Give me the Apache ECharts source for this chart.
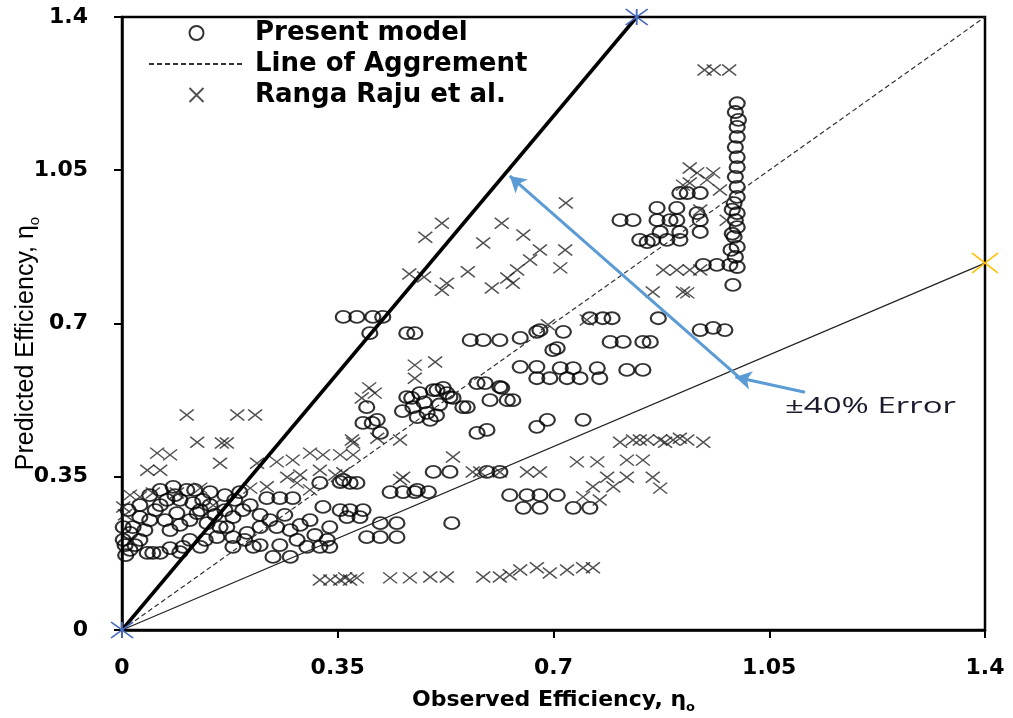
<!DOCTYPE html>
<html>
<head>
<meta charset="utf-8">
<script src="https://cdn.jsdelivr.net/npm/echarts@6/dist/echarts.min.js"></script>
<style>html,body{margin:0;padding:0;background:#fff}#c{width:1013px;height:718px}</style>
</head>
<body>
<div id="c"></div>
<script>
// ---- data ----
const ticks = [0, 0.35, 0.7, 1.05, 1.4];

const presentModel = [
  // right vertical column
  [0.998,1.203],[0.995,1.183],[1.000,1.165],[0.998,1.149],[0.998,1.126],[0.995,1.103],[0.998,1.080],
  [0.998,1.057],[0.995,1.035],[0.998,1.012],[0.998,0.989],[0.993,0.975],[0.998,0.952],[0.995,0.936],
  [0.998,0.920],[0.993,0.898],[0.998,0.875],[0.995,0.852],[0.998,0.829],[0.991,0.788],
  [0.990,0.960],[0.990,0.905],[0.988,0.868],
  // upper-right cluster
  [0.917,0.998],[0.938,0.998],[0.905,0.998],[0.868,0.964],[0.900,0.964],[0.933,0.952],[0.808,0.936],
  [0.829,0.936],[0.868,0.936],[0.900,0.936],[0.938,0.936],[0.889,0.936],[0.840,0.891],[0.861,0.891],
  [0.884,0.891],[0.905,0.891],[0.852,0.886],[0.873,0.909],[0.905,0.909],[0.938,0.909],[0.943,0.834],
  [0.965,0.834],[0.986,0.834],[0.870,0.712],[0.938,0.685],[0.959,0.690],[0.978,0.685],
  // middle
  [0.759,0.712],[0.780,0.712],[0.795,0.712],[0.706,0.644],[0.716,0.681],[0.673,0.681],[0.646,0.667],
  [0.613,0.662],[0.586,0.662],[0.565,0.662],[0.678,0.685],[0.699,0.639],[0.792,0.658],[0.813,0.658],
  [0.845,0.658],[0.857,0.658],[0.646,0.601],[0.673,0.601],[0.711,0.598],[0.732,0.598],[0.771,0.598],
  [0.673,0.575],[0.694,0.575],[0.722,0.575],[0.743,0.575],[0.775,0.575],[0.819,0.594],[0.845,0.594],
  [0.576,0.564],[0.589,0.564],[0.616,0.553],[0.511,0.548],[0.532,0.532],[0.553,0.509],[0.597,0.525],
  [0.625,0.525],[0.634,0.525],[0.673,0.464],[0.690,0.480],[0.576,0.450],[0.592,0.457],[0.748,0.480],
  [0.613,0.555],[0.527,0.541],
  // middle-left
  [0.359,0.715],[0.381,0.715],[0.407,0.715],[0.423,0.715],[0.402,0.678],[0.462,0.678],[0.475,0.678],
  [0.462,0.532],[0.483,0.541],[0.505,0.548],[0.521,0.553],[0.537,0.530],[0.560,0.509],[0.472,0.509],
  [0.495,0.496],[0.479,0.486],[0.500,0.480],[0.397,0.509],[0.391,0.473],[0.406,0.473],[0.419,0.450],
  [0.414,0.480],[0.490,0.520],[0.515,0.515],[0.455,0.500],[0.510,0.490],[0.470,0.530],
  // lower middle
  [0.505,0.361],[0.532,0.361],[0.592,0.361],[0.613,0.361],
  [0.629,0.308],[0.657,0.308],[0.678,0.308],[0.706,0.308],
  [0.651,0.279],[0.678,0.279],[0.732,0.279],[0.759,0.279],
  [0.535,0.244],
  [0.321,0.336],[0.359,0.343],[0.370,0.336],[0.381,0.336],[0.354,0.338],
  [0.435,0.315],[0.456,0.315],[0.475,0.315],[0.497,0.315],[0.479,0.320],
  [0.370,0.274],[0.354,0.274],[0.391,0.274],[0.386,0.258],[0.365,0.258],
  [0.419,0.244],[0.446,0.244],[0.397,0.212],[0.419,0.212],[0.446,0.212],[0.337,0.190],
  // left cluster
  [0.235,0.301],[0.256,0.301],[0.277,0.301],[0.224,0.235],[0.251,0.235],[0.284,0.206],[0.300,0.190],
  [0.321,0.190],[0.245,0.167],[0.273,0.167],[0.180,0.212],[0.154,0.212],[0.127,0.190],[0.099,0.190],
  [0.050,0.176],[0.041,0.176],[0.062,0.176],[0.013,0.183],[0.002,0.206],[0.002,0.235],[0.013,0.222],
  [0.073,0.297],[0.094,0.297],[0.115,0.290],[0.089,0.267],[0.122,0.267],[0.138,0.244],[0.159,0.235],
  [0.170,0.235],[0.203,0.222],[0.213,0.190],[0.180,0.190],[0.083,0.327],[0.105,0.320],[0.131,0.297],
  [0.029,0.258],[0.045,0.251],[0.018,0.235],[0.196,0.274],[0.180,0.258],[0.326,0.281],[0.337,0.235],
  [0.333,0.206],
  [0.005,0.194],[0.006,0.171],[0.021,0.194],[0.029,0.206],[0.037,0.228],[0.054,0.274],[0.062,0.285],
  [0.070,0.251],[0.078,0.228],[0.094,0.240],[0.110,0.251],[0.127,0.274],[0.143,0.285],[0.151,0.263],
  [0.167,0.274],[0.183,0.297],[0.208,0.285],[0.224,0.263],[0.240,0.251],[0.264,0.263],[0.273,0.228],
  [0.289,0.240],[0.305,0.251],[0.313,0.217],[0.110,0.206],[0.135,0.206],[0.199,0.206],[0.224,0.194],
  [0.256,0.194],[0.029,0.285],[0.010,0.274],[0.045,0.308],[0.062,0.320],[0.086,0.308],[0.118,0.320],
  [0.143,0.315],[0.167,0.308],[0.191,0.315],[0.094,0.178],[0.078,0.187]
];

const rangaRaju = [
  [0.945,1.279],[0.960,1.279],[0.985,1.279],
  [0.933,1.044],[0.959,1.044],[0.949,1.028],[0.970,1.005],[0.921,1.021],[0.981,0.936],[0.938,0.959],
  [0.910,1.016],[0.921,1.055],
  [0.878,0.822],[0.900,0.822],[0.921,0.822],[0.938,0.822],[0.861,0.772],[0.910,0.772],[0.917,0.770],
  [0.519,0.929],[0.492,0.897],[0.466,0.813],[0.490,0.806],[0.519,0.776],[0.616,0.929],[0.651,0.902],
  [0.586,0.884],[0.678,0.868],[0.719,0.868],[0.662,0.845],[0.711,0.827],[0.641,0.822],[0.625,0.804],
  [0.561,0.818],[0.527,0.792],[0.600,0.781],[0.691,0.697],[0.754,0.708],[0.720,0.975],[0.634,0.792],
  [0.475,0.605],[0.508,0.612],[0.475,0.575],[0.401,0.553],[0.410,0.541],[0.389,0.530],
  [0.373,0.434],[0.451,0.434],[0.414,0.438],[0.375,0.427],
  [0.305,0.404],[0.326,0.400],[0.354,0.400],[0.375,0.400],[0.537,0.395],
  [0.569,0.361],[0.581,0.361],[0.613,0.361],[0.657,0.361],[0.678,0.361],[0.456,0.349],[0.359,0.359],
  [0.738,0.384],[0.771,0.384],[0.819,0.388],[0.845,0.388],
  [0.808,0.429],[0.829,0.434],[0.840,0.434],[0.852,0.434],[0.873,0.434],[0.881,0.429],[0.894,0.434],
  [0.905,0.438],[0.917,0.434],[0.943,0.429],
  [0.787,0.349],[0.819,0.349],[0.861,0.349],[0.764,0.327],[0.797,0.327],[0.873,0.324],[0.775,0.297],
  [0.748,0.304],
  [0.321,0.114],[0.338,0.114],[0.354,0.114],[0.362,0.119],[0.370,0.114],[0.381,0.119],[0.435,0.119],
  [0.467,0.119],[0.500,0.121],[0.527,0.121],[0.586,0.121],[0.613,0.121],[0.629,0.126],[0.646,0.137],
  [0.673,0.142],[0.694,0.130],[0.722,0.137],[0.748,0.142],[0.764,0.142],
  [0.105,0.491],[0.187,0.491],[0.216,0.491],[0.122,0.429],[0.162,0.427],[0.170,0.427],[0.057,0.404],
  [0.078,0.400],[0.041,0.365],[0.062,0.365],[0.159,0.381],[0.219,0.381],[0.251,0.384],[0.277,0.388],
  [0.451,0.343],[0.127,0.324],[0.050,0.313],[0.089,0.313],[0.029,0.304],[0.002,0.281],[0.148,0.285],
  [0.268,0.349],[0.284,0.336],[0.305,0.320],[0.235,0.327],[0.208,0.324],[0.005,0.263],[0.013,0.308],
  [0.289,0.354],[0.321,0.365],[0.346,0.354]
];

const agreementLine = [[0, 0], [1.4, 1.4]];
const upperErrorLine = [[0, 0], [0.835, 1.4]];   // +40%
const lowerErrorLine = [[0, 0], [1.4, 0.838]];   // -40%
const arrowLong = [[1.01, 0.566], [0.629, 1.037]];
const arrowShort = [[1.108, 0.543], [0.995, 0.578]];
const errorLabel = '±40% Error';

// ---- chart ----
const chart = echarts.init(document.getElementById('c'), null, {renderer: 'canvas'});
const tickFont = {fontFamily: 'DejaVu Sans', fontWeight: 'bold', fontSize: 22, color: '#000'};
const xSymbol = 'path://M0,0L20,20M20,0L0,20';
const starSymbol = 'path://M0,0L20,20M20,0L0,20M10,0L10,20';

// the origin of the -40% line carries no visible marker (the blue star covers it)
const lowerErrorData = lowerErrorLine.map((p, i) => i === 0 ? {value: p, symbol: 'none'} : p);

chart.setOption({
  animation: false,
  backgroundColor: '#fff',
  grid: {left: 122, right: 28, top: 17, bottom: 88, containLabel: false, outerBoundsMode: 'none',
    show: true, borderColor: '#000', borderWidth: 2.5, backgroundColor: 'transparent'},
  legend: {
    orient: 'vertical', left: 143, top: 15, itemWidth: 95, itemHeight: 14, itemGap: 5,
    selectedMode: false,
    data: ['Present model', 'Line of Aggrement', 'Ranga Raju et al.'],
    textStyle: {fontFamily: 'DejaVu Sans', fontWeight: 'bold', fontSize: 26, lineHeight: 26, color: '#000', padding: [0, 0, 0, 6]}
  },
  xAxis: {
    type: 'value', min: ticks[0], max: ticks[ticks.length - 1], interval: ticks[1] - ticks[0],
    splitLine: {show: false},
    axisLine: {lineStyle: {color: '#000', width: 2.5}},
    axisTick: {length: 8, lineStyle: {color: '#000', width: 2}},
    axisLabel: Object.assign({margin: 27}, tickFont),
    name: 'Observed Efficiency, η{sub|o}', nameLocation: 'middle', nameGap: 57, nameMoveOverlap: false,
    nameTextStyle: {fontFamily: 'DejaVu Sans', fontWeight: 'bold', fontSize: 22, color: '#000',
      rich: {sub: {fontFamily: 'DejaVu Sans', fontWeight: 'bold', fontSize: 13, color: '#000', padding: [14, 0, 0, 0]}}}
  },
  yAxis: {
    type: 'value', min: ticks[0], max: ticks[ticks.length - 1], interval: ticks[1] - ticks[0],
    splitLine: {show: false},
    axisLine: {lineStyle: {color: '#000', width: 2.5}},
    axisTick: {length: 8, lineStyle: {color: '#000', width: 2}},
    axisLabel: Object.assign({margin: 34}, tickFont),
    name: 'Predicted Efficiency, η{sub|o}', nameLocation: 'middle', nameGap: 80, nameMoveOverlap: false,
    nameTextStyle: {fontFamily: 'Liberation Sans', fontSize: 25, color: '#000', padding: [0, 40, 0, 0],
      rich: {sub: {fontFamily: 'Liberation Sans', fontSize: 15, color: '#000', padding: [16, 0, 0, 0]}}}
  },
  series: [
    {
      name: 'Present model', type: 'scatter', data: presentModel,
      symbol: 'circle', symbolSize: [15, 12],
      itemStyle: {color: 'rgba(0,0,0,0)', borderColor: '#000', borderWidth: 2},
      emphasis: {disabled: true}, z: 2
    },
    {
      name: 'Ranga Raju et al.', type: 'scatter', data: rangaRaju,
      symbol: xSymbol, symbolSize: [14, 11],
      itemStyle: {color: 'rgba(0,0,0,0)', borderColor: '#262626', borderWidth: 1.5},
      emphasis: {disabled: true}, z: 2
    },
    {
      name: 'Line of Aggrement', type: 'line', data: agreementLine,
      symbol: 'none', lineStyle: {color: '#333', width: 1.2, type: [5, 3]},
      itemStyle: {color: 'rgba(0,0,0,0)', borderColor: 'rgba(0,0,0,0)', borderWidth: 0},
      emphasis: {disabled: true}, z: 3
    },
    {
      name: 'minus40', type: 'line', data: lowerErrorData,
      symbol: xSymbol, symbolSize: [26, 20], showSymbol: true,
      lineStyle: {color: '#222', width: 1.2},
      itemStyle: {color: 'rgba(0,0,0,0)', borderColor: '#FFC000', borderWidth: 1.6},
      emphasis: {disabled: true}, z: 3
    },
    {
      name: 'plus40', type: 'line', data: upperErrorLine,
      symbol: starSymbol, symbolSize: [22, 16], showSymbol: true,
      lineStyle: {color: '#000', width: 3.5},
      itemStyle: {color: 'rgba(0,0,0,0)', borderColor: '#4a6cc0', borderWidth: 1.6},
      emphasis: {disabled: true}, z: 4
    },
    {
      name: 'arrows', type: 'line', data: [], symbol: 'none',
      markLine: {
        silent: true, symbol: ['none', 'arrow'], symbolSize: [14, 16],
        lineStyle: {color: '#5B9BD5', width: 3, type: 'solid'},
        label: {show: false}, emphasis: {disabled: true},
        data: [
          [{coord: arrowLong[0]}, {coord: arrowLong[1]}],
          [{coord: arrowShort[0]}, {coord: arrowShort[1]}]
        ]
      },
      z: 5
    }
  ],
  graphic: [{
    type: 'text', x: 785, y: 396, scaleX: 1.5, z: 10,
    style: {text: errorLabel, font: '22px "Open Sans"', fill: '#1b1b2e'}
  }]
});
</script>
</body>
</html>
